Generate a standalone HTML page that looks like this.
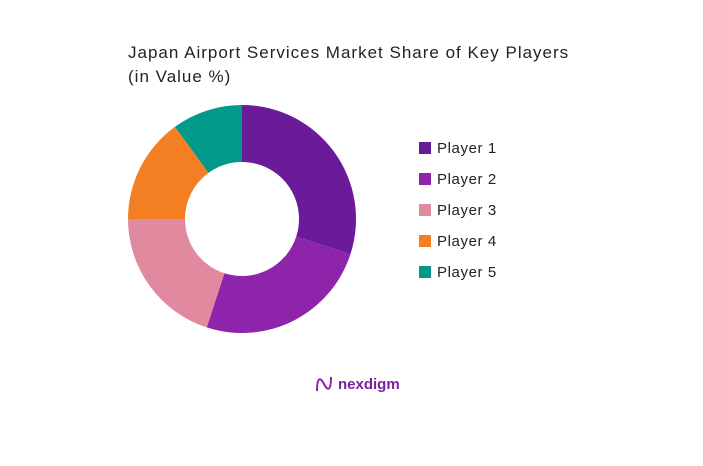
<!DOCTYPE html>
<html><head><meta charset="utf-8"><style>
body{margin:0;width:703px;height:466px;background:#fff;font-family:"Liberation Sans",sans-serif;overflow:hidden;position:relative}
.t{position:absolute;left:128px;top:41px;font-size:17px;color:#222;line-height:24px;letter-spacing:1px;white-space:nowrap}
</style></head><body>
<div class="t">Japan Airport Services Market Share of Key Players<br>(in Value %)</div>
<svg id="c" width="703" height="466" style="position:absolute;left:0;top:0"></svg>
<div style="position:absolute;left:314px;top:374px;display:flex;align-items:center">
<svg width="20" height="20" viewBox="0 0 20 20"><path d="M3 17 C3 4,6 2,10 10 C14 18,17 16,17 3" stroke="#8e24aa" stroke-width="2" fill="none"/></svg>
<span style="color:#7b1fa2;font-size:15px;font-weight:bold;margin-left:4px">nexdigm</span></div>
<script>
const categories=["Player 1","Player 2","Player 3","Player 4","Player 5"];
const values=[30,25,20,15,10];
const colors=["#6a1b9a","#8e24aa","#e0899f","#f47f22","#00998a"];
const svg=document.getElementById('c');const NS="http://www.w3.org/2000/svg";
const cx=242,cy=219,R=114,r=57;
const total=values.reduce((a,b)=>a+b,0);
let a0=0;
function pt(a,rad){return [cx+rad*Math.sin(a),cy-rad*Math.cos(a)];}
values.forEach((v,i)=>{
const a1=a0+v/total*2*Math.PI;const lg=(a1-a0)>Math.PI?1:0;
const p1=pt(a0,R),p2=pt(a1,R),p3=pt(a1,r),p4=pt(a0,r);
const p=document.createElementNS(NS,'path');
p.setAttribute('d',`M${p1}A${R},${R} 0 ${lg} 1 ${p2}L${p3}A${r},${r} 0 ${lg} 0 ${p4}Z`);
p.setAttribute('fill',colors[i]);


svg.appendChild(p);a0=a1;
const y=148+i*31;
const g=document.createElementNS(NS,'g');


const rc=document.createElementNS(NS,'rect');
rc.setAttribute('x',419);rc.setAttribute('y',y-6);rc.setAttribute('width',12);rc.setAttribute('height',12);rc.setAttribute('fill',colors[i]);
const tx=document.createElementNS(NS,'text');
tx.setAttribute('x',437);tx.setAttribute('y',y+5);tx.setAttribute('font-size',15);tx.setAttribute('fill','#222');
tx.setAttribute('letter-spacing','0.6');
tx.setAttribute('font-family','Liberation Sans, sans-serif');tx.textContent=categories[i];
g.appendChild(rc);g.appendChild(tx);svg.appendChild(g);
});
</script>
</body></html>
